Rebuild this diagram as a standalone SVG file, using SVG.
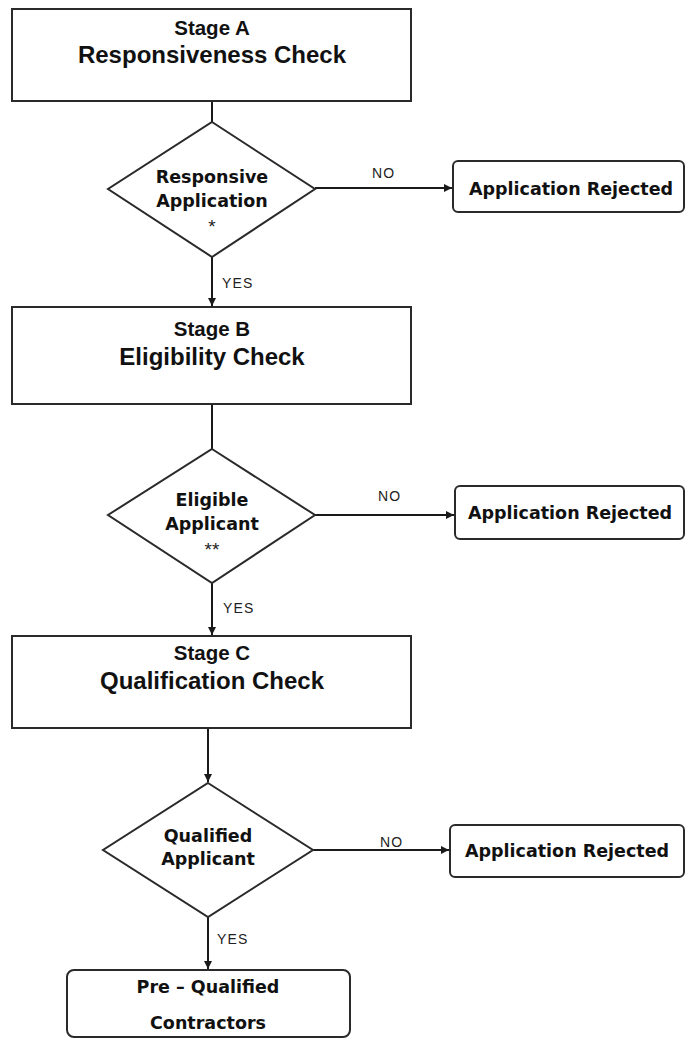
<svg xmlns="http://www.w3.org/2000/svg" width="685" height="1040" viewBox="0 0 685 1040">
<style>
.box{fill:#fff;stroke:#2a2a2a;stroke-width:2}
.ln{fill:none;stroke:#1a1a1a;stroke-width:2}
.stage{font-family:"Liberation Sans",Arial,sans-serif;font-weight:bold;font-size:20.5px;fill:#111;text-anchor:middle}
.title{font-family:"Liberation Sans",Arial,sans-serif;font-weight:bold;font-size:24px;fill:#111;text-anchor:middle}
.dt{font-family:"DejaVu Sans",Verdana,sans-serif;font-weight:bold;font-size:17.5px;fill:#111;text-anchor:middle}
.star{font-family:"Liberation Sans",Arial,sans-serif;font-size:19px;fill:#222;text-anchor:middle}
.lbl{font-family:"Liberation Sans",Arial,sans-serif;font-size:14px;fill:#222;letter-spacing:1.2px}
</style>
<defs>
<marker id="ah" viewBox="0 0 10 10" refX="10" refY="5" markerWidth="4" markerHeight="4" orient="auto" markerUnits="strokeWidth">
<path d="M0,0 L10,5 L0,10 z" fill="#1a1a1a"/>
</marker>
</defs>

<g id="connectors">
<line class="ln" x1="212" y1="101" x2="212" y2="122"/>
<line class="ln" x1="212" y1="257" x2="212" y2="306" marker-end="url(#ah)"/>
<line class="ln" x1="315" y1="188" x2="452" y2="188" marker-end="url(#ah)"/>
<line class="ln" x1="212" y1="404" x2="212" y2="449"/>
<line class="ln" x1="212" y1="583" x2="212" y2="635" marker-end="url(#ah)"/>
<line class="ln" x1="315" y1="515" x2="454" y2="515" marker-end="url(#ah)"/>
<line class="ln" x1="208" y1="728" x2="208" y2="782" marker-end="url(#ah)"/>
<line class="ln" x1="313" y1="850" x2="449" y2="850" marker-end="url(#ah)"/>
<line class="ln" x1="208" y1="917" x2="208" y2="969" marker-end="url(#ah)"/>
<text class="lbl" x="222" y="288">YES</text>
<text class="lbl" x="372" y="178">NO</text>
<text class="lbl" x="223" y="613">YES</text>
<text class="lbl" x="378" y="501">NO</text>
<text class="lbl" x="217" y="944">YES</text>
<text class="lbl" x="380" y="847">NO</text>
</g>

<g id="stageA">
<rect class="box" x="12" y="9" width="399" height="92"/>
<text class="stage" x="212" y="35">Stage A</text>
<text class="title" x="212" y="63">Responsiveness Check</text>
</g>

<g id="decisionA">
<polygon class="box" points="212,122 315,189 212,257 108,189"/>
<text class="dt" x="212" y="183">Responsive</text>
<text class="dt" x="212" y="207">Application</text>
<text class="star" x="212" y="233">*</text>
</g>

<g id="rejectA">
<rect class="box" x="453" y="161" width="231" height="51" rx="5"/>
<text class="dt" x="571" y="195">Application Rejected</text>
</g>

<g id="stageB">
<rect class="box" x="12" y="307" width="399" height="97"/>
<text class="stage" x="212" y="336">Stage B</text>
<text class="title" x="212" y="365">Eligibility Check</text>
</g>

<g id="decisionB">
<polygon class="box" points="212,449 315,515 212,583 108,515"/>
<text class="dt" x="212" y="506">Eligible</text>
<text class="dt" x="212" y="530">Applicant</text>
<text class="star" x="212" y="556">**</text>
</g>

<g id="rejectB">
<rect class="box" x="455" y="486" width="229" height="53" rx="5"/>
<text class="dt" x="570" y="519">Application Rejected</text>
</g>

<g id="stageC">
<rect class="box" x="12" y="636" width="399" height="92"/>
<text class="stage" x="212" y="660">Stage C</text>
<text class="title" x="212" y="689">Qualification Check</text>
</g>

<g id="decisionC">
<polygon class="box" points="208,783 313,850 208,917 103,850"/>
<text class="dt" x="208" y="842">Qualified</text>
<text class="dt" x="208" y="865">Applicant</text>
</g>

<g id="rejectC">
<rect class="box" x="450" y="825" width="234" height="52" rx="5"/>
<text class="dt" x="567" y="857">Application Rejected</text>
</g>

<g id="prequalified">
<rect class="box" x="67" y="970" width="283" height="67" rx="7"/>
<text class="dt" x="208" y="993">Pre – Qualified</text>
<text class="dt" x="208" y="1029">Contractors</text>
</g>
</svg>
